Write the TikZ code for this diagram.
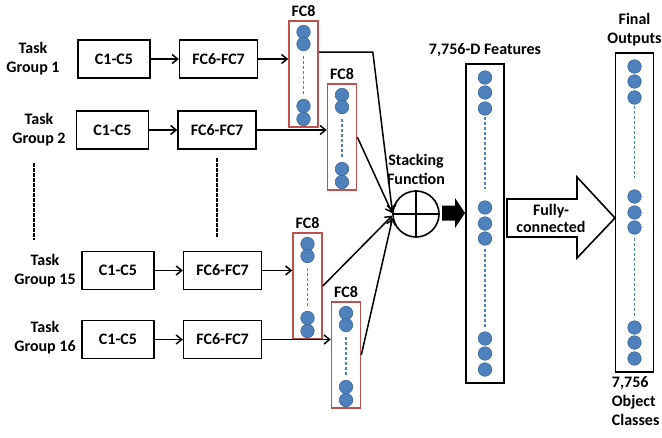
\documentclass[tikz,border=0pt]{standalone}
\usepackage{fontspec}
\setmainfont{Carlito}
\usetikzlibrary{arrows.meta,positioning}
\definecolor{unitblue}{HTML}{4F81BD}
\definecolor{unitborder}{HTML}{3A6699}
\definecolor{fcred}{HTML}{C0504D}
\newcommand{\labelfont}{\fontsize{16}{19}\selectfont\bfseries}
\tikzset{
    layer/.style={
        rectangle, draw=black, line width=1.6pt,
        minimum height=38pt, inner sep=0pt,
        font=\labelfont
    },
    conv layer/.style={layer, minimum width=72pt},
    fc layer/.style={layer, minimum width=78pt},
    fc8 layer/.style={
        rectangle, draw=fcred, line width=1.6pt,
        minimum width=29pt, minimum height=106pt, inner sep=0pt
    },
    column/.style={
        rectangle, draw=black, line width=1.6pt,
        minimum width=38pt, minimum height=319pt, inner sep=0pt
    },
    unit/.style={
        circle, fill=unitblue, draw=unitborder, line width=0.6pt,
        minimum size=13.5pt, inner sep=0pt
    },
    unit gap/.style={draw=unitblue, line width=1.5pt, dash pattern=on 3pt off 2pt},
    group label/.style={align=center, inner sep=0pt, font=\labelfont},
    layer label/.style={align=center, inner sep=0pt, font=\labelfont},
    feed/.style={-{Straight Barb[length=5.5pt,width=9pt]}, line width=1.5pt},
    skip dots/.style={draw=black, line width=1.6pt, dash pattern=on 3.5pt off 1.5pt},
}
% units inside an FC8 box
\newcommand{\fcunits}[1]{%
    \node[unit] (#1-u1) at ([yshift=42pt]#1.center) {};
    \node[unit] (#1-u2) at ([yshift=30pt]#1.center) {};
    \node[unit] (#1-u3) at ([yshift=-32pt]#1.center) {};
    \node[unit] (#1-u4) at ([yshift=-45pt]#1.center) {};
    \draw[unit gap] ([yshift=18pt]#1.center) -- ([yshift=-20pt]#1.center);
}
% units inside a feature / output column
\newcommand{\colunits}[1]{%
    \node[unit] (#1-u1) at ([yshift=146pt]#1.center) {};
    \node[unit] (#1-u2) at ([yshift=131pt]#1.center) {};
    \node[unit] (#1-u3) at ([yshift=115pt]#1.center) {};
    \node[unit] (#1-u4) at ([yshift=16pt]#1.center) {};
    \node[unit] (#1-u5) at ([yshift=0pt]#1.center) {};
    \node[unit] (#1-u6) at ([yshift=-15pt]#1.center) {};
    \node[unit] (#1-u7) at ([yshift=-115pt]#1.center) {};
    \node[unit] (#1-u8) at ([yshift=-130pt]#1.center) {};
    \node[unit] (#1-u9) at ([yshift=-146pt]#1.center) {};
    \draw[unit gap] ([yshift=107pt]#1.center) -- ([yshift=35pt]#1.center);
    \draw[unit gap] ([yshift=-25pt]#1.center) -- ([yshift=-105pt]#1.center);
}

\begin{document}
\begin{tikzpicture}[x=1pt, y=-1pt]
    \useasboundingbox (0,0) rectangle (662,437);

    % task groups
    \node[group label] (task1) at (33,58.5) {Task\\Group 1};
    \node[group label] (task2) at (39,129.5) {Task\\Group 2};
    \node[group label] (task15) at (45,271) {Task\\Group 15};
    \node[group label] (task16) at (45,338) {Task\\Group 16};

    \node[conv layer] (conva) at (114,59) {C1-C5};
    \node[conv layer] (convb) at (112.5,130) {C1-C5};
    \node[conv layer] (convc) at (118,270.5) {C1-C5};
    \node[conv layer] (convd) at (118,339.5) {C1-C5};

    \node[fc layer, right=28pt of conva] (fca) {FC6-FC7};
    \node[fc layer, right=28pt of convb] (fcb) {FC6-FC7};
    \node[fc layer, right=28pt of convc] (fcc) {FC6-FC7};
    \node[fc layer, right=28pt of convd] (fcd) {FC6-FC7};

    \node[fc8 layer] (fc8a) at (303.5,74) {};
    \node[fc8 layer] (fc8b) at (342,137) {};
    \node[fc8 layer] (fc8c) at (307.5,286) {};
    \node[fc8 layer] (fc8d) at (346,355) {};
    \fcunits{fc8a}
    \fcunits{fc8b}
    \fcunits{fc8c}
    \fcunits{fc8d}
    \node[layer label, above=3pt of fc8a] (fc8a label) {FC8};
    \node[layer label, above=3pt of fc8b] (fc8b label) {FC8};
    \node[layer label, above=3pt of fc8c] (fc8c label) {FC8};
    \node[layer label, above=3pt of fc8d] (fc8d label) {FC8};

    % skipped groups
    \coordinate (skipa top) at (34,163);
    \coordinate (skipa bottom) at (34,240);
    \coordinate (skipb top) at (217,158);
    \coordinate (skipb bottom) at (217,237);
    \draw[skip dots] (skipa top) -- (skipa bottom);
    \draw[skip dots] (skipb top) -- (skipb bottom);

    % stacking
    \node[circle, draw=black, line width=1.6pt, minimum size=46pt, inner sep=0pt] (sum) at (416,214) {};
    \draw[line width=1.6pt] (sum.north) -- (sum.south);
    \draw[line width=1.6pt] (sum.west) -- (sum.east);
    \node[layer label, above=5pt of sum] (sum label) {Stacking\\Function};
    \fill[black] (442,205.5) -- (455,205.5) -- (455,198) -- (465,213) -- (455,228) -- (455,220.5) -- (442,220.5) -- cycle;

    \node[column] (feat) at (485,223.5) {};
    \colunits{feat}
    \node[layer label, above=6pt of feat] (feat label) {7,756-D Features};

    \draw[line width=1.6pt, fill=white] (507,199) -- (577,199) -- (577,177) -- (615,218) -- (577,258) -- (577,237) -- (507,237) -- cycle;
    \node[layer label] (fc label) at (551,218) {Fully-\\[-2pt]connected};

    \node[column] (out) at (634.5,212.5) {};
    \colunits{out}
    \node[layer label, above=6pt of out] (out label) {Final\\Outputs};
    \node[layer label, align=left, below=4pt of out.south west, anchor=north west, xshift=-3pt] (class label) {7,756\\Object\\Classes};

    % connections
    \draw[feed] (conva) -- (fca);
    \draw[feed] (convb) -- (fcb);
    \draw[feed] (convc) -- (fcc);
    \draw[feed] (convd) -- (fcd);
    \draw[feed] (fca.east) -- (fca.east -| fc8a.west);
    \draw[feed] (fcb.east) -- (fcb.east -| fc8b.west);
    \draw[feed] (fcc.east) -- (fcc.east -| fc8c.west);
    \draw[feed] (fcd.east) -- (fcd.east -| fc8d.west);
    \draw[feed] ([yshift=22pt]fc8a.east) -- ++(54,0) -- (sum.174);
    \draw[feed] (fc8b.east) -- (sum.178);
    \draw[feed] (fc8c.east) -- (sum.184);
    \draw[feed] (fc8d.east) -- (sum.190);
\end{tikzpicture}
\end{document}
